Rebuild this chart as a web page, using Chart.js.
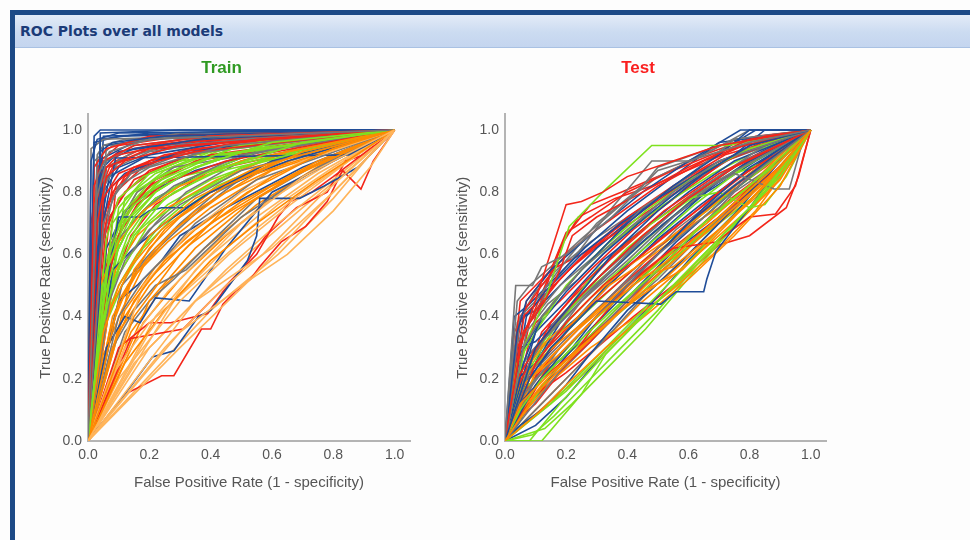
<!DOCTYPE html>
<html>
<head>
<meta charset="utf-8">
<script src="https://cdn.jsdelivr.net/npm/chart.js@4.4.0/dist/chart.umd.min.js"></script>
<style>
  body { margin: 0; background: #fdfdfd; width: 970px; height: 540px; overflow: hidden; position: relative; }
  #frameTop { position: absolute; left: 10px; top: 10px; width: 960px; height: 5px; background: #1d4a86; }
  #frameLeft { position: absolute; left: 10px; top: 10px; width: 5px; height: 530px; background: #1d4a86; }
  #header {
    position: absolute; left: 15px; top: 15px; width: 955px; height: 33px;
    background: linear-gradient(#e3ebf7, #cbdbf1 55%, #c4d5ef);
    border-bottom: 1px solid #a9c1e3;
    font: bold 14px "DejaVu Sans", sans-serif; color: #1b3b78;
    line-height: 32px; padding-left: 5px; box-sizing: border-box;
  }
  .box { position: absolute; }
</style>
</head>
<body>
<div id="frameTop"></div>
<div id="frameLeft"></div>
<div id="header">ROC Plots over all models</div>
<div class="box" style="left:33px; top:50px;"><canvas id="train" width="387" height="446"></canvas></div>
<div class="box" style="left:450px; top:50px;"><canvas id="test" width="386" height="446"></canvas></div>

<script>
// tick labels on both axes
var tickValues = [0, 0.2, 0.4, 0.6, 0.8, 1.0];

// ---- Train curves, [fpr, tpr] points ----
var trainBlue = [
  [[0,0],[0.02,0.98],[0.04,1],[1,1]],
  [[0,0],[0.01,0.9],[0.03,0.97],[0.1,0.99],[1,1]],
  [[0,0],[0.04,0.5],[0.04,0.99],[0.3,1],[1,1]],
  [[0,0],[0.04,0.93],[0.08,0.96],[0.25,0.98],[1,1]],
  [[0,0],[0.03,0.6],[0.09,0.91],[0.85,0.92],[1,1]],
  [[0,0],[0.05,0.45],[0.1,0.72],[0.17,0.72],[0.2,0.74],[0.24,0.75],[0.32,0.75],[0.4,0.8],[0.6,0.9],[1,1]],
  [[0,0],[0.12,0.15],[0.21,0.27],[0.28,0.29],[0.36,0.4],[0.4,0.42],[0.46,0.5],[0.52,0.58],[0.55,0.66],[0.56,0.78],[0.69,0.78],[0.77,0.82],[0.88,0.88],[1,1]],
  [[0,0],[0.06,0.3],[0.12,0.4],[0.17,0.38],[0.22,0.46],[0.33,0.45],[0.45,0.62],[0.6,0.8],[1,1]],
  [[0,0],[0.02,0.55],[0.06,0.8],[0.12,0.86],[0.3,0.93],[1,1]],
  [[0,0],[0.05,0.88],[0.1,0.93],[0.5,0.99],[1,1]],
  [[0,0],[0.08,0.55],[0.15,0.62],[0.25,0.7],[0.4,0.8],[0.65,0.9],[1,1]],
  [[0,0],[0.03,0.75],[0.05,0.95],[0.2,0.97],[1,1]],
  [[0,0],[0.03,0.82],[0.06,0.9],[0.15,0.94],[0.4,0.97],[1,1]],
  [[0,0],[0.04,0.7],[0.07,0.85],[0.2,0.92],[0.45,0.96],[1,1]],
  [[0,0],[0.06,0.62],[0.12,0.74],[0.2,0.8],[0.35,0.87],[0.6,0.94],[1,1]],
  [[0,0],[0.1,0.45],[0.16,0.5],[0.24,0.58],[0.3,0.66],[0.45,0.75],[0.7,0.88],[1,1]],
  [[0,0],[0.02,0.96],[0.1,0.98],[1,1]],
  [[0,0],[0.05,0.98],[0.6,1],[1,1]],
  [[0,0],[0.03,0.9],[0.15,0.96],[0.35,0.99],[1,1]],
  [[0,0],[0.05,0.8],[0.1,0.88],[0.25,0.94],[0.5,0.98],[1,1]],
  [[0,0],[0.09,0.6],[0.14,0.7],[0.22,0.78],[0.35,0.85],[0.55,0.93],[1,1]],
  [[0,0],[0.04,0.97],[0.2,0.99],[1,1]]
];
var trainGray = [
  [[0,0],[0.03,0.85],[0.07,0.93],[0.2,0.97],[1,1]],
  [[0,0],[0.02,0.75],[0.06,0.9],[0.15,0.95],[0.4,0.98],[1,1]],
  [[0,0],[0.05,0.7],[0.1,0.82],[0.2,0.88],[0.45,0.95],[1,1]],
  [[0,0],[0.07,0.45],[0.12,0.58],[0.2,0.68],[0.3,0.76],[0.5,0.87],[1,1]],
  [[0,0],[0.1,0.4],[0.18,0.52],[0.26,0.6],[0.35,0.7],[0.55,0.84],[1,1]],
  [[0,0],[0.04,0.6],[0.08,0.78],[0.14,0.86],[0.3,0.92],[1,1]],
  [[0,0],[0.08,0.3],[0.15,0.42],[0.22,0.5],[0.32,0.55],[0.5,0.72],[0.75,0.88],[1,1]],
  [[0,0],[0.01,0.94],[0.05,0.97],[1,1]],
  [[0,0],[0.06,0.55],[0.1,0.65],[0.18,0.74],[0.28,0.82],[0.5,0.92],[1,1]],
  [[0,0],[0.02,0.9],[0.08,0.95],[0.3,0.99],[1,1]],
  [[0,0],[0.03,0.92],[0.05,0.95],[0.12,0.97],[1,1]],
  [[0,0],[0.04,0.8],[0.09,0.88],[0.2,0.93],[0.5,0.97],[1,1]],
  [[0,0],[0.08,0.5],[0.14,0.6],[0.22,0.7],[0.32,0.8],[0.5,0.9],[1,1]],
  [[0,0],[0.12,0.35],[0.2,0.45],[0.28,0.52],[0.38,0.62],[0.55,0.78],[0.8,0.92],[1,1]],
  [[0,0],[0.05,0.5],[0.09,0.68],[0.16,0.8],[0.28,0.88],[1,1]],
  [[0,0],[0.06,0.95],[0.3,0.98],[1,1]],
  [[0,0],[0.02,0.6],[0.05,0.82],[0.1,0.9],[0.25,0.95],[1,1]],
  [[0,0],[0.09,0.42],[0.16,0.55],[0.25,0.64],[0.36,0.74],[0.52,0.86],[1,1]],
  [[0,0],[0.06,0.88],[0.15,0.93],[0.35,0.97],[1,1]],
  [[0,0],[0.11,0.5],[0.2,0.6],[0.3,0.7],[0.42,0.8],[0.62,0.9],[1,1]]
];
var trainRed = [
  [[0,0],[0.02,0.82],[0.05,0.9],[0.15,0.95],[0.4,0.98],[1,1]],
  [[0,0],[0.03,0.7],[0.06,0.85],[0.12,0.9],[0.3,0.95],[1,1]],
  [[0,0],[0.04,0.6],[0.08,0.82],[0.15,0.88],[0.35,0.93],[1,1]],
  [[0,0],[0.01,0.5],[0.03,0.78],[0.06,0.88],[0.2,0.94],[1,1]],
  [[0,0],[0.05,0.78],[0.1,0.86],[0.25,0.92],[0.55,0.97],[1,1]],
  [[0,0],[0.02,0.88],[0.06,0.94],[0.2,0.98],[1,1]],
  [[0,0],[0.06,0.5],[0.1,0.66],[0.16,0.76],[0.25,0.83],[0.45,0.9],[1,1]],
  [[0,0],[0.12,0.15],[0.24,0.21],[0.28,0.21],[0.37,0.36],[0.4,0.36],[0.44,0.44],[0.48,0.48],[0.53,0.52],[0.56,0.56],[0.63,0.64],[0.71,0.69],[0.78,0.77],[0.83,0.87],[0.89,0.81],[0.93,0.9],[1,1]],
  [[0,0],[0.14,0.33],[0.31,0.36],[0.37,0.42],[0.45,0.5],[0.55,0.6],[0.62,0.72],[0.66,0.77],[0.73,0.8],[0.8,0.85],[1,1]],
  [[0,0],[0.1,0.3],[0.2,0.38],[0.27,0.38],[0.39,0.41],[0.44,0.48],[0.5,0.55],[0.58,0.66],[0.68,0.75],[0.78,0.8],[0.84,0.9],[0.9,0.92],[1,1]],
  [[0,0],[0.03,0.4],[0.05,0.72],[0.1,0.84],[0.2,0.9],[0.5,0.96],[1,1]],
  [[0,0],[0.08,0.62],[0.14,0.75],[0.22,0.84],[0.4,0.92],[1,1]],
  [[0,0],[0.02,0.65],[0.04,0.86],[0.1,0.92],[0.3,0.96],[1,1]],
  [[0,0],[0.03,0.55],[0.06,0.75],[0.12,0.85],[0.25,0.91],[0.5,0.96],[1,1]],
  [[0,0],[0.02,0.4],[0.04,0.7],[0.08,0.8],[0.16,0.88],[0.35,0.94],[1,1]],
  [[0,0],[0.05,0.65],[0.1,0.78],[0.2,0.87],[0.4,0.94],[1,1]],
  [[0,0],[0.01,0.7],[0.04,0.9],[0.1,0.95],[0.3,0.98],[1,1]],
  [[0,0],[0.07,0.72],[0.15,0.84],[0.3,0.91],[0.6,0.97],[1,1]],
  [[0,0],[0.03,0.88],[0.1,0.93],[0.3,0.97],[1,1]],
  [[0,0],[0.05,0.3],[0.08,0.5],[0.14,0.66],[0.22,0.76],[0.4,0.87],[1,1]],
  [[0,0],[0.04,0.8],[0.09,0.9],[0.2,0.95],[0.45,0.98],[1,1]],
  [[0,0],[0.06,0.7],[0.12,0.8],[0.2,0.86],[0.35,0.92],[0.6,0.97],[1,1]],
  [[0,0],[0.02,0.75],[0.07,0.88],[0.18,0.93],[0.4,0.97],[1,1]],
  [[0,0],[0.04,0.45],[0.07,0.62],[0.12,0.74],[0.2,0.82],[0.35,0.9],[1,1]],
  [[0,0],[0.09,0.8],[0.2,0.9],[0.4,0.96],[1,1]]
];
var trainGreen = [
  [[0,0],[0.05,0.45],[0.1,0.62],[0.15,0.72],[0.22,0.8],[0.35,0.88],[0.6,0.96],[1,1]],
  [[0,0],[0.06,0.55],[0.12,0.7],[0.2,0.8],[0.3,0.86],[0.5,0.93],[1,1]],
  [[0,0],[0.04,0.35],[0.08,0.5],[0.12,0.62],[0.18,0.72],[0.28,0.8],[0.45,0.88],[0.7,0.96],[1,1]],
  [[0,0],[0.07,0.6],[0.12,0.74],[0.2,0.83],[0.28,0.87],[0.5,0.95],[1,1]],
  [[0,0],[0.03,0.3],[0.07,0.45],[0.1,0.55],[0.15,0.66],[0.25,0.78],[0.4,0.86],[1,1]],
  [[0,0],[0.08,0.7],[0.15,0.8],[0.25,0.86],[0.4,0.91],[0.7,0.97],[1,1]],
  [[0,0],[0.05,0.4],[0.09,0.52],[0.14,0.6],[0.2,0.7],[0.32,0.78],[0.5,0.88],[1,1]],
  [[0,0],[0.1,0.75],[0.2,0.86],[0.35,0.92],[0.6,0.97],[1,1]],
  [[0,0],[0.06,0.65],[0.1,0.78],[0.18,0.85],[0.3,0.9],[1,1]],
  [[0,0],[0.04,0.42],[0.07,0.56],[0.11,0.68],[0.17,0.77],[0.3,0.85],[1,1]],
  [[0,0],[0.05,0.5],[0.09,0.64],[0.14,0.75],[0.24,0.84],[0.42,0.92],[1,1]],
  [[0,0],[0.07,0.5],[0.13,0.66],[0.2,0.76],[0.32,0.84],[0.55,0.93],[1,1]],
  [[0,0],[0.04,0.38],[0.08,0.58],[0.14,0.7],[0.22,0.78],[0.38,0.86],[0.65,0.95],[1,1]],
  [[0,0],[0.09,0.68],[0.16,0.78],[0.26,0.84],[0.45,0.92],[1,1]],
  [[0,0],[0.06,0.45],[0.11,0.58],[0.17,0.68],[0.26,0.76],[0.4,0.84],[0.7,0.95],[1,1]],
  [[0,0],[0.12,0.78],[0.22,0.86],[0.4,0.93],[1,1]],
  [[0,0],[0.05,0.55],[0.1,0.7],[0.16,0.8],[0.25,0.87],[0.45,0.94],[1,1]],
  [[0,0],[0.03,0.25],[0.06,0.4],[0.1,0.5],[0.16,0.6],[0.24,0.7],[0.36,0.8],[0.6,0.92],[1,1]],
  [[0,0],[0.08,0.6],[0.14,0.72],[0.22,0.8],[0.35,0.88],[0.6,0.96],[1,1]],
  [[0,0],[0.06,0.38],[0.12,0.52],[0.18,0.62],[0.28,0.72],[0.42,0.82],[0.7,0.94],[1,1]],
  [[0,0],[0.11,0.7],[0.18,0.8],[0.3,0.88],[0.5,0.95],[1,1]]
];
var trainOrange = [
  [[0,0],[0.15,0.4],[0.3,0.6],[0.45,0.75],[0.6,0.85],[0.8,0.94],[1,1]],
  [[0,0],[0.1,0.45],[0.2,0.62],[0.3,0.72],[0.45,0.82],[0.7,0.93],[1,1]],
  [[0,0],[0.08,0.3],[0.15,0.45],[0.25,0.58],[0.4,0.7],[0.6,0.82],[1,1]],
  [[0,0],[0.05,0.35],[0.1,0.5],[0.2,0.66],[0.35,0.78],[0.55,0.88],[1,1]],
  [[0,0],[0.12,0.25],[0.25,0.42],[0.4,0.58],[0.55,0.7],[0.75,0.84],[1,1]],
  [[0,0],[0.04,0.5],[0.1,0.64],[0.18,0.74],[0.3,0.82],[0.5,0.9],[1,1]],
  [[0,0],[0.06,0.4],[0.14,0.56],[0.24,0.68],[0.4,0.8],[0.62,0.9],[1,1]],
  [[0,0],[0.09,0.55],[0.16,0.66],[0.26,0.75],[0.42,0.84],[0.65,0.93],[1,1]],
  [[0,0],[0.07,0.35],[0.13,0.5],[0.22,0.62],[0.35,0.74],[0.55,0.86],[1,1]],
  [[0,0],[0.12,0.42],[0.22,0.56],[0.35,0.68],[0.52,0.8],[0.75,0.92],[1,1]],
  [[0,0],[0.05,0.28],[0.12,0.4],[0.2,0.52],[0.32,0.64],[0.5,0.77],[0.75,0.9],[1,1]],
  [[0,0],[0.15,0.55],[0.25,0.68],[0.4,0.8],[0.6,0.9],[1,1]],
  [[0,0],[0.2,0.45],[0.35,0.62],[0.52,0.76],[0.72,0.88],[1,1]],
  [[0,0],[0.1,0.35],[0.2,0.5],[0.33,0.63],[0.48,0.74],[0.68,0.86],[1,1]],
  [[0,0],[0.08,0.4],[0.16,0.54],[0.26,0.64],[0.4,0.75],[0.6,0.87],[1,1]],
  [[0,0],[0.14,0.35],[0.25,0.5],[0.38,0.62],[0.55,0.76],[0.78,0.9],[1,1]],
  [[0,0],[0.06,0.3],[0.11,0.42],[0.18,0.56],[0.28,0.68],[0.45,0.8],[0.7,0.92],[1,1]],
  [[0,0],[0.18,0.38],[0.3,0.52],[0.45,0.66],[0.62,0.8],[0.82,0.92],[1,1]]
];
var trainLightOrange = [
  [[0,0],[0.2,0.35],[0.35,0.55],[0.5,0.7],[0.7,0.85],[1,1]],
  [[0,0],[0.3,0.35],[0.53,0.52],[0.7,0.7],[0.85,0.85],[1,1]],
  [[0,0],[0.25,0.3],[0.45,0.5],[0.57,0.6],[0.75,0.78],[1,1]],
  [[0,0],[0.35,0.45],[0.6,0.62],[0.8,0.8],[1,1]],
  [[0,0],[0.18,0.5],[0.32,0.66],[0.5,0.8],[0.7,0.9],[1,1]],
  [[0,0],[0.07,0.2],[0.2,0.38],[0.36,0.52],[0.52,0.66],[0.7,0.8],[1,1]],
  [[0,0],[0.3,0.3],[0.53,0.52],[0.65,0.6],[0.8,0.74],[0.92,0.88],[1,1]],
  [[0,0],[0.1,0.2],[0.18,0.3],[0.3,0.45],[0.46,0.6],[0.66,0.76],[0.85,0.9],[1,1]],
  [[0,0],[0.22,0.4],[0.38,0.58],[0.55,0.72],[0.75,0.86],[1,1]],
  [[0,0],[0.15,0.25],[0.3,0.4],[0.45,0.55],[0.62,0.7],[0.8,0.84],[1,1]],
  [[0,0],[0.4,0.42],[0.62,0.6],[0.8,0.78],[0.92,0.92],[1,1]],
  [[0,0],[0.12,0.3],[0.26,0.48],[0.42,0.64],[0.6,0.78],[0.8,0.9],[1,1]],
  [[0,0],[0.28,0.45],[0.45,0.62],[0.62,0.76],[0.8,0.88],[1,1]],
  [[0,0],[0.2,0.3],[0.36,0.46],[0.52,0.6],[0.7,0.75],[0.86,0.88],[1,1]]
];

// ---- Test curves ----
var testBlue = [
  [[0,0],[0.05,0.15],[0.1,0.3],[0.2,0.42],[0.35,0.6],[0.5,0.74],[0.65,0.86],[0.8,0.95],[1,1]],
  [[0,0],[0.08,0.2],[0.15,0.3],[0.3,0.45],[0.51,0.44],[0.56,0.48],[0.65,0.48],[0.66,0.52],[0.69,0.61],[0.8,0.75],[0.9,0.88],[1,1]],
  [[0,0],[0.04,0.35],[0.07,0.45],[0.15,0.55],[0.3,0.68],[0.45,0.8],[0.6,0.9],[0.77,1],[1,1]],
  [[0,0],[0.1,0.18],[0.22,0.32],[0.35,0.45],[0.5,0.6],[0.65,0.75],[0.8,0.88],[1,1]],
  [[0,0],[0.06,0.25],[0.12,0.4],[0.25,0.55],[0.4,0.7],[0.55,0.82],[0.7,0.92],[0.8,1],[1,1]],
  [[0,0],[0.03,0.1],[0.12,0.2],[0.22,0.3],[0.3,0.4],[0.45,0.55],[0.6,0.7],[0.75,0.82],[0.9,0.93],[1,1]],
  [[0,0],[0.05,0.05],[0.12,0.1],[0.2,0.18],[0.27,0.27],[0.4,0.42],[0.55,0.55],[0.7,0.7],[0.85,0.85],[1,1]],
  [[0,0],[0.07,0.4],[0.13,0.48],[0.25,0.6],[0.38,0.7],[0.5,0.78],[0.7,0.9],[1,1]],
  [[0,0],[0.1,0.35],[0.2,0.45],[0.32,0.58],[0.45,0.68],[0.6,0.8],[0.75,0.9],[1,1]],
  [[0,0],[0.04,0.2],[0.1,0.25],[0.18,0.38],[0.3,0.5],[0.45,0.64],[0.62,0.78],[0.8,0.9],[1,1]],
  [[0,0],[0.05,0.28],[0.1,0.36],[0.2,0.48],[0.32,0.6],[0.46,0.72],[0.6,0.83],[0.75,0.92],[0.85,1],[1,1]],
  [[0,0],[0.08,0.12],[0.18,0.25],[0.28,0.36],[0.42,0.5],[0.56,0.64],[0.72,0.78],[0.86,0.9],[1,1]],
  [[0,0],[0.03,0.4],[0.08,0.44],[0.16,0.52],[0.26,0.62],[0.4,0.74],[0.55,0.85],[0.7,0.96],[1,1]],
  [[0,0],[0.12,0.3],[0.24,0.4],[0.36,0.52],[0.5,0.65],[0.64,0.76],[0.78,0.86],[0.92,0.95],[1,1]],
  [[0,0],[0.06,0.18],[0.14,0.28],[0.24,0.4],[0.38,0.55],[0.52,0.68],[0.68,0.82],[0.84,0.93],[1,1]],
  [[0,0],[0.1,0.05],[0.2,0.14],[0.32,0.28],[0.46,0.42],[0.6,0.58],[0.76,0.74],[0.9,0.9],[1,1]],
  [[0,0],[0.02,0.2],[0.05,0.3],[0.1,0.32],[0.2,0.42],[0.3,0.52],[0.44,0.65],[0.6,0.78],[0.78,0.9],[1,1]],
  [[0,0],[0.06,0.4],[0.1,0.42],[0.2,0.52],[0.3,0.62],[0.42,0.72],[0.58,0.84],[0.72,0.94],[0.82,1],[1,1]],
  [[0,0],[0.08,0.28],[0.16,0.36],[0.26,0.46],[0.38,0.58],[0.52,0.7],[0.66,0.8],[0.82,0.9],[1,1]],
  [[0,0],[0.04,0.05],[0.1,0.15],[0.18,0.24],[0.28,0.34],[0.4,0.46],[0.54,0.6],[0.7,0.72],[0.86,0.86],[1,1]]
];
var testGray = [
  [[0,0],[0.035,0.5],[0.09,0.5],[0.12,0.56],[0.2,0.6],[0.35,0.72],[0.5,0.87],[0.6,0.9],[0.8,0.96],[1,1]],
  [[0,0],[0.06,0.3],[0.12,0.4],[0.25,0.55],[0.4,0.68],[0.55,0.8],[0.7,0.9],[1,1]],
  [[0,0],[0.04,0.12],[0.1,0.2],[0.2,0.3],[0.35,0.45],[0.5,0.6],[0.65,0.72],[0.8,0.85],[1,1]],
  [[0,0],[0.08,0.25],[0.16,0.38],[0.3,0.52],[0.45,0.65],[0.6,0.78],[0.75,0.86],[0.88,0.81],[0.93,0.81],[0.97,0.95],[1,1]],
  [[0,0],[0.05,0.4],[0.1,0.45],[0.2,0.58],[0.3,0.7],[0.45,0.82],[0.5,0.88],[0.7,0.95],[1,1]],
  [[0,0],[0.12,0.15],[0.2,0.25],[0.3,0.35],[0.45,0.5],[0.6,0.65],[0.75,0.8],[0.9,0.9],[1,1]],
  [[0,0],[0.07,0.2],[0.15,0.32],[0.25,0.45],[0.4,0.58],[0.55,0.72],[0.7,0.84],[1,1]],
  [[0,0],[0.03,0.3],[0.08,0.38],[0.18,0.5],[0.3,0.6],[0.45,0.75],[0.6,0.85],[0.75,0.97],[1,1]],
  [[0,0],[0.1,0.3],[0.2,0.4],[0.35,0.55],[0.5,0.7],[0.65,0.82],[0.85,0.95],[1,1]],
  [[0,0],[0.05,0.22],[0.12,0.32],[0.22,0.44],[0.34,0.56],[0.48,0.68],[0.62,0.8],[0.78,0.9],[1,1]],
  [[0,0],[0.04,0.45],[0.08,0.5],[0.15,0.56],[0.25,0.65],[0.38,0.76],[0.5,0.85],[0.65,0.92],[0.8,1],[1,1]],
  [[0,0],[0.1,0.1],[0.2,0.2],[0.32,0.32],[0.45,0.46],[0.6,0.6],[0.75,0.75],[0.9,0.88],[1,1]],
  [[0,0],[0.07,0.35],[0.14,0.44],[0.24,0.52],[0.36,0.64],[0.5,0.76],[0.66,0.86],[0.82,0.96],[1,1]],
  [[0,0],[0.09,0.18],[0.18,0.3],[0.3,0.42],[0.42,0.54],[0.56,0.68],[0.72,0.8],[0.88,0.92],[1,1]],
  [[0,0],[0.06,0.35],[0.15,0.5],[0.25,0.62],[0.35,0.75],[0.48,0.9],[0.6,0.9],[0.75,0.97],[1,1]],
  [[0,0],[0.03,0.2],[0.08,0.28],[0.15,0.36],[0.25,0.46],[0.38,0.58],[0.52,0.7],[0.68,0.82],[0.84,0.92],[1,1]],
  [[0,0],[0.06,0.1],[0.14,0.18],[0.24,0.28],[0.36,0.4],[0.5,0.52],[0.64,0.66],[0.8,0.8],[1,1]],
  [[0,0],[0.04,0.38],[0.1,0.48],[0.18,0.56],[0.28,0.64],[0.4,0.72],[0.56,0.82],[0.72,0.9],[1,1]],
  [[0,0],[0.12,0.25],[0.22,0.35],[0.34,0.46],[0.48,0.58],[0.62,0.72],[0.78,0.84],[1,1]]
];
var testRed = [
  [[0,0],[0.05,0.3],[0.2,0.76],[0.25,0.77],[0.32,0.8],[0.4,0.85],[0.55,0.9],[0.7,0.95],[1,1]],
  [[0,0],[0.06,0.35],[0.13,0.45],[0.18,0.55],[0.22,0.66],[0.3,0.72],[0.45,0.8],[0.6,0.88],[0.8,0.97],[1,1]],
  [[0,0],[0.04,0.2],[0.1,0.3],[0.2,0.42],[0.3,0.52],[0.45,0.66],[0.6,0.78],[0.75,0.88],[1,1]],
  [[0,0],[0.08,0.15],[0.15,0.25],[0.25,0.35],[0.4,0.5],[0.55,0.62],[0.69,0.64],[0.8,0.72],[0.885,0.73],[0.95,0.82],[1,1]],
  [[0,0],[0.05,0.4],[0.12,0.5],[0.2,0.6],[0.3,0.68],[0.5,0.82],[0.65,0.9],[0.85,0.98],[1,1]],
  [[0,0],[0.1,0.25],[0.2,0.38],[0.32,0.5],[0.45,0.6],[0.6,0.72],[0.75,0.84],[0.9,0.93],[1,1]],
  [[0,0],[0.03,0.15],[0.08,0.25],[0.15,0.38],[0.25,0.5],[0.38,0.62],[0.52,0.74],[0.7,0.86],[1,1]],
  [[0,0],[0.12,0.2],[0.22,0.28],[0.35,0.4],[0.5,0.55],[0.65,0.68],[0.8,0.8],[0.92,0.9],[1,1]],
  [[0,0],[0.07,0.45],[0.15,0.55],[0.2,0.67],[0.28,0.72],[0.4,0.8],[0.55,0.87],[0.7,0.93],[1,1]],
  [[0,0],[0.06,0.1],[0.15,0.2],[0.28,0.32],[0.4,0.45],[0.55,0.58],[0.7,0.72],[0.85,0.86],[1,1]],
  [[0,0],[0.02,0.05],[0.1,0.12],[0.18,0.22],[0.3,0.38],[0.42,0.52],[0.6,0.66],[0.78,0.8],[1,1]],
  [[0,0],[0.04,0.25],[0.1,0.38],[0.18,0.45],[0.28,0.55],[0.42,0.68],[0.58,0.8],[0.72,0.9],[0.9,0.97],[1,1]],
  [[0,0],[0.04,0.3],[0.1,0.42],[0.18,0.52],[0.28,0.62],[0.4,0.72],[0.55,0.82],[0.72,0.92],[1,1]],
  [[0,0],[0.06,0.2],[0.14,0.3],[0.24,0.4],[0.36,0.5],[0.5,0.62],[0.66,0.75],[0.82,0.87],[1,1]],
  [[0,0],[0.08,0.38],[0.2,0.66],[0.28,0.76],[0.38,0.8],[0.5,0.85],[0.65,0.92],[0.82,0.98],[1,1]],
  [[0,0],[0.1,0.15],[0.2,0.22],[0.3,0.3],[0.42,0.4],[0.55,0.5],[0.7,0.63],[0.8,0.66],[0.92,0.75],[0.96,0.85],[1,1]],
  [[0,0],[0.05,0.45],[0.1,0.5],[0.15,0.55],[0.25,0.6],[0.35,0.66],[0.5,0.76],[0.65,0.86],[0.8,0.94],[1,1]],
  [[0,0],[0.03,0.08],[0.08,0.18],[0.16,0.28],[0.26,0.38],[0.38,0.5],[0.52,0.62],[0.68,0.76],[0.85,0.88],[1,1]],
  [[0,0],[0.12,0.35],[0.22,0.46],[0.34,0.58],[0.48,0.7],[0.62,0.8],[0.78,0.9],[0.9,0.96],[1,1]],
  [[0,0],[0.05,0.38],[0.08,0.42],[0.14,0.48],[0.22,0.56],[0.32,0.64],[0.45,0.74],[0.6,0.84],[0.76,0.92],[1,1]],
  [[0,0],[0.03,0.35],[0.06,0.4],[0.1,0.44],[0.16,0.5],[0.24,0.58],[0.36,0.68],[0.5,0.78],[0.66,0.88],[0.84,0.96],[1,1]],
  [[0,0],[0.08,0.22],[0.16,0.3],[0.26,0.42],[0.38,0.54],[0.52,0.66],[0.68,0.78],[0.84,0.9],[1,1]],
  [[0,0],[0.1,0.4],[0.18,0.62],[0.24,0.72],[0.36,0.78],[0.48,0.82],[0.62,0.88],[0.78,0.95],[1,1]],
  [[0,0],[0.05,0.15],[0.12,0.22],[0.2,0.3],[0.3,0.4],[0.44,0.52],[0.58,0.64],[0.74,0.78],[0.9,0.9],[1,1]]
];
var testGreen = [
  [[0,0],[0.12,0],[0.25,0.15],[0.33,0.28],[0.5,0.45],[0.7,0.65],[0.9,0.85],[1,1]],
  [[0,0],[0.08,0],[0.18,0.12],[0.3,0.25],[0.45,0.4],[0.6,0.55],[0.8,0.75],[1,1]],
  [[0,0],[0.06,0.3],[0.13,0.45],[0.21,0.69],[0.33,0.81],[0.48,0.95],[0.73,0.95],[1,1]],
  [[0,0],[0.05,0.1],[0.12,0.2],[0.22,0.3],[0.35,0.42],[0.5,0.55],[0.65,0.7],[0.8,0.82],[1,1]],
  [[0,0],[0.08,0.15],[0.16,0.25],[0.28,0.38],[0.42,0.5],[0.58,0.64],[0.72,0.76],[0.9,0.9],[1,1]],
  [[0,0],[0.04,0.25],[0.1,0.35],[0.2,0.5],[0.32,0.62],[0.46,0.74],[0.62,0.85],[0.8,0.94],[1,1]],
  [[0,0],[0.06,0.05],[0.15,0.12],[0.25,0.22],[0.38,0.35],[0.55,0.52],[0.7,0.68],[0.85,0.82],[1,1]],
  [[0,0],[0.1,0.3],[0.2,0.42],[0.3,0.55],[0.45,0.68],[0.6,0.78],[0.7,0.8],[0.8,0.75],[0.85,0.76],[0.92,0.85],[1,1]],
  [[0,0],[0.14,0.2],[0.22,0.28],[0.3,0.35],[0.42,0.45],[0.55,0.58],[0.7,0.72],[0.88,0.88],[1,1]],
  [[0,0],[0.05,0.18],[0.12,0.28],[0.22,0.4],[0.34,0.52],[0.48,0.64],[0.62,0.76],[0.78,0.88],[1,1]],
  [[0,0],[0.1,0.08],[0.2,0.16],[0.3,0.26],[0.42,0.38],[0.56,0.5],[0.7,0.64],[0.85,0.8],[1,1]],
  [[0,0],[0.07,0.32],[0.16,0.45],[0.26,0.56],[0.38,0.66],[0.52,0.76],[0.68,0.86],[0.84,0.94],[1,1]],
  [[0,0],[0.13,0.04],[0.22,0.12],[0.34,0.24],[0.46,0.36],[0.58,0.5],[0.74,0.68],[0.9,0.86],[1,1]],
  [[0,0],[0.06,0.2],[0.16,0.36],[0.28,0.5],[0.4,0.62],[0.55,0.74],[0.7,0.84],[0.86,0.9],[1,1]],
  [[0,0],[0.03,0.12],[0.08,0.22],[0.15,0.3],[0.25,0.4],[0.36,0.5],[0.5,0.62],[0.66,0.74],[0.82,0.86],[1,1]],
  [[0,0],[0.09,0.02],[0.16,0.08],[0.26,0.18],[0.38,0.3],[0.5,0.42],[0.64,0.58],[0.8,0.74],[0.94,0.9],[1,1]],
  [[0,0],[0.08,0.25],[0.14,0.34],[0.24,0.46],[0.36,0.56],[0.5,0.68],[0.64,0.8],[0.8,0.9],[1,1]],
  [[0,0],[0.04,0.15],[0.1,0.2],[0.18,0.26],[0.28,0.34],[0.4,0.46],[0.54,0.58],[0.7,0.7],[0.86,0.82],[1,1]]
];
var testOrange = [
  [[0,0],[0.1,0.15],[0.2,0.25],[0.3,0.35],[0.45,0.48],[0.58,0.55],[0.75,0.72],[0.9,0.88],[1,1]],
  [[0,0],[0.05,0.12],[0.15,0.22],[0.25,0.3],[0.38,0.42],[0.52,0.52],[0.68,0.66],[0.85,0.82],[1,1]],
  [[0,0],[0.08,0.2],[0.18,0.28],[0.3,0.4],[0.42,0.5],[0.56,0.6],[0.7,0.72],[0.86,0.86],[1,1]],
  [[0,0],[0.12,0.1],[0.2,0.18],[0.33,0.3],[0.48,0.42],[0.6,0.52],[0.75,0.66],[0.9,0.82],[1,1]],
  [[0,0],[0.06,0.18],[0.14,0.26],[0.24,0.36],[0.36,0.46],[0.5,0.58],[0.66,0.7],[0.82,0.84],[1,1]],
  [[0,0],[0.04,0.08],[0.12,0.18],[0.22,0.28],[0.34,0.38],[0.46,0.5],[0.6,0.62],[0.76,0.76],[0.92,0.9],[1,1]],
  [[0,0],[0.1,0.22],[0.2,0.32],[0.3,0.42],[0.42,0.52],[0.55,0.56],[0.7,0.68],[0.84,0.8],[1,1]],
  [[0,0],[0.07,0.1],[0.16,0.2],[0.28,0.3],[0.4,0.38],[0.54,0.48],[0.68,0.6],[0.82,0.74],[0.94,0.9],[1,1]],
  [[0,0],[0.09,0.28],[0.18,0.36],[0.28,0.46],[0.4,0.56],[0.52,0.64],[0.66,0.74],[0.8,0.86],[1,1]],
  [[0,0],[0.03,0.15],[0.1,0.25],[0.18,0.32],[0.28,0.4],[0.4,0.5],[0.54,0.6],[0.7,0.7],[0.86,0.84],[1,1]],
  [[0,0],[0.06,0.22],[0.12,0.3],[0.22,0.38],[0.34,0.5],[0.46,0.58],[0.62,0.7],[0.78,0.8],[0.92,0.94],[1,1]],
  [[0,0],[0.14,0.12],[0.24,0.2],[0.36,0.32],[0.5,0.45],[0.62,0.56],[0.76,0.7],[0.9,0.84],[1,1]],
  [[0,0],[0.05,0.05],[0.1,0.1],[0.2,0.2],[0.3,0.3],[0.44,0.44],[0.56,0.54],[0.7,0.66],[0.86,0.8],[1,1]]
];

var blue = '#1f4c98', gray = '#777777', red = '#f3261a', green = '#7fe11f',
    orange = '#ff8a00', lightOrange = '#ffb45a';

// mix the colour groups like the original overlay
function buildDatasets(groups) {
  var out = [];
  var longest = Math.max.apply(null, groups.map(function (g) { return g.curves.length; }));
  for (var i = 0; i < longest; i++) {
    groups.forEach(function (g) {
      var c = g.curves[i];
      if (!c) return;
      out.push({
        data: c.map(function (p) { return { x: p[0], y: p[1] }; }),
        borderColor: g.color,
        borderWidth: 1.6,
        showLine: true,
        pointRadius: 0,
        tension: 0,
        fill: false
      });
    });
  }
  return out;
}

var tickFont = { family: '"Liberation Sans", Arial, sans-serif', size: 14 };
var titleFont = { family: '"Liberation Sans", Arial, sans-serif', size: 15 };

function axis(title, isY) {
  return {
    type: 'linear',
    min: 0,
    max: 1.05,
    grid: { display: false, drawTicks: false },
    border: { display: true, color: '#b4b4b4', width: 2 },
    ticks: {
      color: '#555',
      font: tickFont,
      padding: 6,
      callback: function (v) { return v.toFixed(1); }
    },
    afterBuildTicks: function (scale) {
      scale.ticks = tickValues.map(function (v) { return { value: v }; });
    },
    afterFit: function (scale) {
      if (isY) scale.width = 55; else scale.height = 55;
    },
    title: { display: true, text: title, color: '#555', font: titleFont, padding: 4 }
  };
}

function makeChart(id, title, titleColor, groups) {
  return new Chart(document.getElementById(id), {
    type: 'scatter',
    data: { datasets: buildDatasets(groups) },
    options: {
      responsive: false,
      animation: false,
      layout: { padding: { left: 0, right: 10, top: 0, bottom: 0 } },
      plugins: {
        legend: { display: false },
        tooltip: { enabled: false },
        title: {
          display: true,
          text: title,
          color: titleColor,
          font: { family: '"Liberation Sans", Arial, sans-serif', size: 17, weight: 'bold' },
          padding: { top: 8, bottom: 36 }
        }
      },
      scales: {
        x: axis('False Positive Rate (1 - specificity)', false),
        y: axis('True Positive Rate (sensitivity)', true)
      }
    }
  });
}

makeChart('train', 'Train', '#2f9a22', [
  { curves: trainLightOrange, color: lightOrange },
  { curves: trainOrange, color: orange },
  { curves: trainGray, color: gray },
  { curves: trainGreen, color: green },
  { curves: trainRed, color: red },
  { curves: trainBlue, color: blue }
]);

makeChart('test', 'Test', '#fa1f1f', [
  { curves: testOrange, color: orange },
  { curves: testGreen, color: green },
  { curves: testGray, color: gray },
  { curves: testBlue, color: blue },
  { curves: testRed, color: red }
]);
</script>
</body>
</html>
